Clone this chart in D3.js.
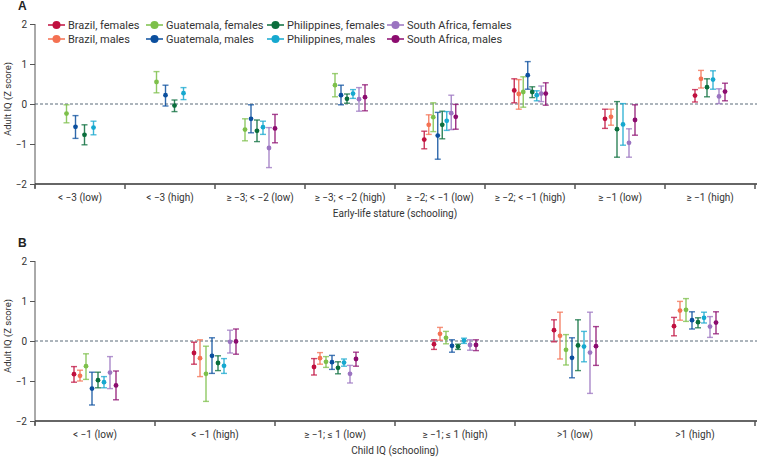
<!DOCTYPE html>
<html>
<head>
<meta charset="utf-8">
<style>
    body { margin: 0; background: #fff; }
    svg { display: block; font-family: 'Liberation Sans Narrow', Roboto, Arial, sans-serif; }
    .tick text { font-size: 10px; fill: #333; }
    .axis-title { font-size: 10px; fill: #333; }
    .legend text { font-size: 11px; fill: #333; }
    .panel-label { font-size: 12px; font-weight: bold; fill: #222; font-family: Arial, sans-serif; }
</style>
</head>
<body>
<svg width="757" height="458"></svg>
<script src="https://d3js.org/d3.v7.min.js"></script>
<script>
    // series (same order in both panels)
    let seriesNames = ["Brazil, females", "Brazil, males", "Guatemala, females", "Guatemala, males",
        "Philippines, females", "Philippines, males", "South Africa, females", "South Africa, males"]
    let seriesColors = ["#c0103f", "#f47152", "#7dc04a", "#0b4f9e", "#0b6e3d", "#16a8cf", "#9b74c1", "#8c0c6f"]

    // panel A: early-life stature
    let catsA = ["< \u22123 (low)", "< \u22123 (high)", "\u2265 \u22123; < \u22122 (low)", "\u2265 \u22123; < \u22122 (high)",
        "\u2265 \u22122; < \u22121 (low)", "\u2265 \u22122; < \u22121 (high)", "\u2265 \u22121 (low)", "\u2265 \u22121 (high)"]
    // rows = series, columns = categories (null = not estimated)
    let estA = [
        [null, null, null, null, -0.89, 0.34, -0.37, 0.21],
        [null, null, null, null, -0.52, 0.25, -0.32, 0.63],
        [-0.24, 0.55, -0.64, 0.47, -0.33, 0.30, null, null],
        [-0.57, 0.22, -0.37, 0.22, -0.79, 0.72, null, null],
        [-0.77, -0.04, -0.67, 0.13, -0.52, 0.30, -0.63, 0.42],
        [-0.59, 0.27, -0.58, 0.26, -0.42, 0.22, -0.51, 0.61],
        [null, null, -1.10, 0.12, -0.23, 0.26, -0.97, 0.19],
        [null, null, -0.61, 0.17, -0.32, 0.26, -0.40, 0.31]
    ]
    let loA = [
        [null, null, null, null, -1.12, 0.03, -0.61, 0.05],
        [null, null, null, null, -0.76, -0.13, -0.53, 0.40],
        [-0.47, 0.28, -0.92, 0.18, -0.69, -0.08, null, null],
        [-0.86, -0.05, -0.72, -0.02, -1.38, 0.37, null, null],
        [-1.02, -0.19, -0.94, 0.02, -0.87, 0.16, -1.33, 0.18],
        [-0.77, 0.11, -0.76, 0.14, -0.66, 0.08, -1.03, 0.37],
        [null, null, -1.59, -0.18, -0.64, 0.06, -1.33, 0.01],
        [null, null, -0.97, -0.17, -0.63, -0.03, -0.78, 0.08]
    ]
    let hiA = [
        [null, null, null, null, -0.68, 0.63, -0.13, 0.36],
        [null, null, null, null, -0.27, 0.61, -0.13, 0.84],
        [-0.02, 0.81, -0.37, 0.76, 0.03, 0.68, null, null],
        [-0.29, 0.47, -0.02, 0.47, -0.21, 1.06, null, null],
        [-0.52, 0.10, -0.40, 0.25, -0.18, 0.43, 0.06, 0.63],
        [-0.43, 0.41, -0.43, 0.36, -0.19, 0.33, 0.01, 0.83],
        [null, null, -0.59, 0.41, 0.22, 0.45, -0.62, 0.38],
        [null, null, -0.26, 0.48, -0.01, 0.53, -0.02, 0.52]
    ]

    // panel B: child IQ
    let catsB = ["< \u22121 (low)", "< \u22121 (high)", "\u2265 \u22121; \u2264 1 (low)", "\u2265 \u22121; \u2264 1 (high)", ">1 (low)", ">1 (high)"]
    let estB = [
        [-0.83, -0.30, -0.65, -0.08, 0.27, 0.37],
        [-0.87, -0.43, -0.43, 0.18, 0.13, 0.76],
        [-0.63, -0.82, -0.52, 0.08, -0.22, 0.78],
        [-1.19, -0.37, -0.53, -0.12, -0.42, 0.52],
        [-0.98, -0.55, -0.67, -0.14, -0.11, 0.47],
        [-1.03, -0.62, -0.54, 0.01, -0.14, 0.58],
        [-0.79, -0.02, -0.82, -0.10, -0.29, 0.36],
        [-1.11, -0.01, -0.45, -0.10, -0.13, 0.46]
    ]
    let loB = [
        [-1.03, -0.58, -0.85, -0.21, -0.02, 0.13],
        [-1.00, -0.89, -0.58, 0.02, -0.45, 0.52],
        [-0.96, -1.51, -0.66, -0.07, -0.60, 0.49],
        [-1.60, -0.81, -0.71, -0.28, -0.92, 0.30],
        [-1.17, -0.74, -0.82, -0.21, -0.74, 0.33],
        [-1.17, -0.81, -0.63, -0.06, -0.52, 0.45],
        [-1.19, -0.30, -1.05, -0.23, -1.31, 0.09],
        [-1.47, -0.33, -0.63, -0.24, -0.61, 0.18]
    ]
    let hiB = [
        [-0.64, -0.03, -0.44, 0.03, 0.53, 0.59],
        [-0.73, 0.03, -0.29, 0.34, 0.72, 0.99],
        [-0.32, -0.13, -0.39, 0.24, 0.16, 1.06],
        [-0.78, 0.08, -0.36, 0.03, 0.08, 0.73],
        [-0.78, -0.37, -0.52, -0.08, 0.53, 0.58],
        [-0.89, -0.44, -0.45, 0.07, 0.24, 0.72],
        [-0.39, 0.27, -0.61, 0.03, 0.72, 0.61],
        [-0.75, 0.30, -0.28, 0.03, 0.36, 0.73]
    ]
    let yTicks = [-2, -1, 0, 1, 2]

    let svg = d3.select("svg")
    let left = 35, right = 755

    function drawPanel(label, cats, est, lo, hi, top, title) {
        let g = svg.append("g")
        let y = d3.scaleLinear().domain([-2, 2]).range([top + 160, top])
        let x = d3.scaleBand().domain(cats).range([left, right])

        g.append("text").attr("class", "panel-label")
            .attr("x", 18).attr("y", top - 14).text(label)

        // zero reference line
        g.append("line")
            .attr("x1", left).attr("x2", 757)
            .attr("y1", y(0)).attr("y2", y(0))
            .style("stroke", "#5b6b78").style("stroke-width", 1)
            .style("stroke-dasharray", "3,2")

        // y axis
        let yAxis = g.append("g")
            .attr("transform", `translate(${left},0)`)
            .call(d3.axisLeft(y).tickValues(yTicks).tickSize(5).tickPadding(3)
                .tickFormat(d => d < 0 ? "\u2212" + Math.abs(d) : d))
        yAxis.select(".domain").attr("d", `M0,${y(2)}V${y(-2) + 4}`).style("stroke", "#555")
        yAxis.selectAll(".tick line").style("stroke", "#555")
        yAxis.selectAll(".tick text").style("font-family", "'Liberation Sans Narrow', Roboto, Arial, sans-serif")

        g.append("text").attr("class", "axis-title")
            .attr("transform", `translate(11,${y(0) - 5}) rotate(-90)`)
            .style("text-anchor", "middle")
            .style("font-size", "9.5px")
            .text("Adult IQ (Z score)")

        // x axis
        let bounds = cats.map(c => x(c)).concat([right])
        let xAxis = g.append("g").attr("transform", `translate(0,${y(-2)})`)
        xAxis.append("line").attr("x1", left).attr("x2", 757)
            .style("stroke", "#333").style("stroke-width", 1.5)
        xAxis.selectAll(".bt").data(bounds).join("line")
            .attr("x1", d => d).attr("x2", d => d)
            .attr("y1", 0).attr("y2", 5)
            .style("stroke", "#555").style("stroke-width", 1.5)
        xAxis.selectAll(".cl").data(cats).join("text")
            .attr("x", d => x(d) + x.bandwidth() / 2)
            .attr("y", 17)
            .style("text-anchor", "middle")
            .style("font-size", "10px").style("fill", "#333")
            .text(d => d)
        g.append("text").attr("class", "axis-title")
            .attr("x", (left + right) / 2).attr("y", y(-2) + 33)
            .style("text-anchor", "middle")
            .text(title)

        // error bars
        let capW = 3
        cats.forEach(function (c, ci) {
            let present = seriesNames.map((s, si) => si).filter(si => est[si][ci] != null)
            let inner = d3.scaleBand().domain(present)
                .range([x(c) + x.bandwidth() * 0.3, x(c) + x.bandwidth() * 0.7])
            present.forEach(function (si) {
                let cx = inner(si) + inner.bandwidth() / 2
                let col = seriesColors[si]
                let bar = g.append("g")
                bar.append("line")
                    .attr("x1", cx).attr("x2", cx)
                    .attr("y1", y(lo[si][ci])).attr("y2", y(hi[si][ci]))
                    .style("stroke", col).style("stroke-width", 1.4).style("opacity", 0.85)
                ;[lo[si][ci], hi[si][ci]].forEach(function (v) {
                    bar.append("line")
                        .attr("x1", cx - capW).attr("x2", cx + capW)
                        .attr("y1", y(v)).attr("y2", y(v))
                        .style("stroke", col).style("stroke-width", 1.4).style("opacity", 0.75)
                })
                bar.append("circle")
                    .attr("cx", cx).attr("cy", y(est[si][ci])).attr("r", 2.4)
                    .style("fill", col)
            })
        })
    }

    drawPanel("A", catsA, estA, loA, hiA, 24, "Early-life stature (schooling)")
    drawPanel("B", catsB, estB, loB, hiB, 261, "Child IQ (schooling)")

    // legend (2 rows x 4 columns)
    let legendX = [48, 146, 267, 387]
    let legend = svg.append("g").attr("class", "legend")
    seriesNames.forEach(function (s, i) {
        let lx = legendX[Math.floor(i / 2)]
        let ly = 25 + (i % 2) * 14
        legend.append("line").attr("x1", lx).attr("x2", lx + 17)
            .attr("y1", ly).attr("y2", ly)
            .style("stroke", seriesColors[i]).style("stroke-width", 1.5)
        legend.append("circle").attr("cx", lx + 8.5).attr("cy", ly).attr("r", 4)
            .style("fill", seriesColors[i])
        legend.append("text").attr("x", lx + 20).attr("y", ly + 4).text(s)
    })
</script>
</body>
</html>
